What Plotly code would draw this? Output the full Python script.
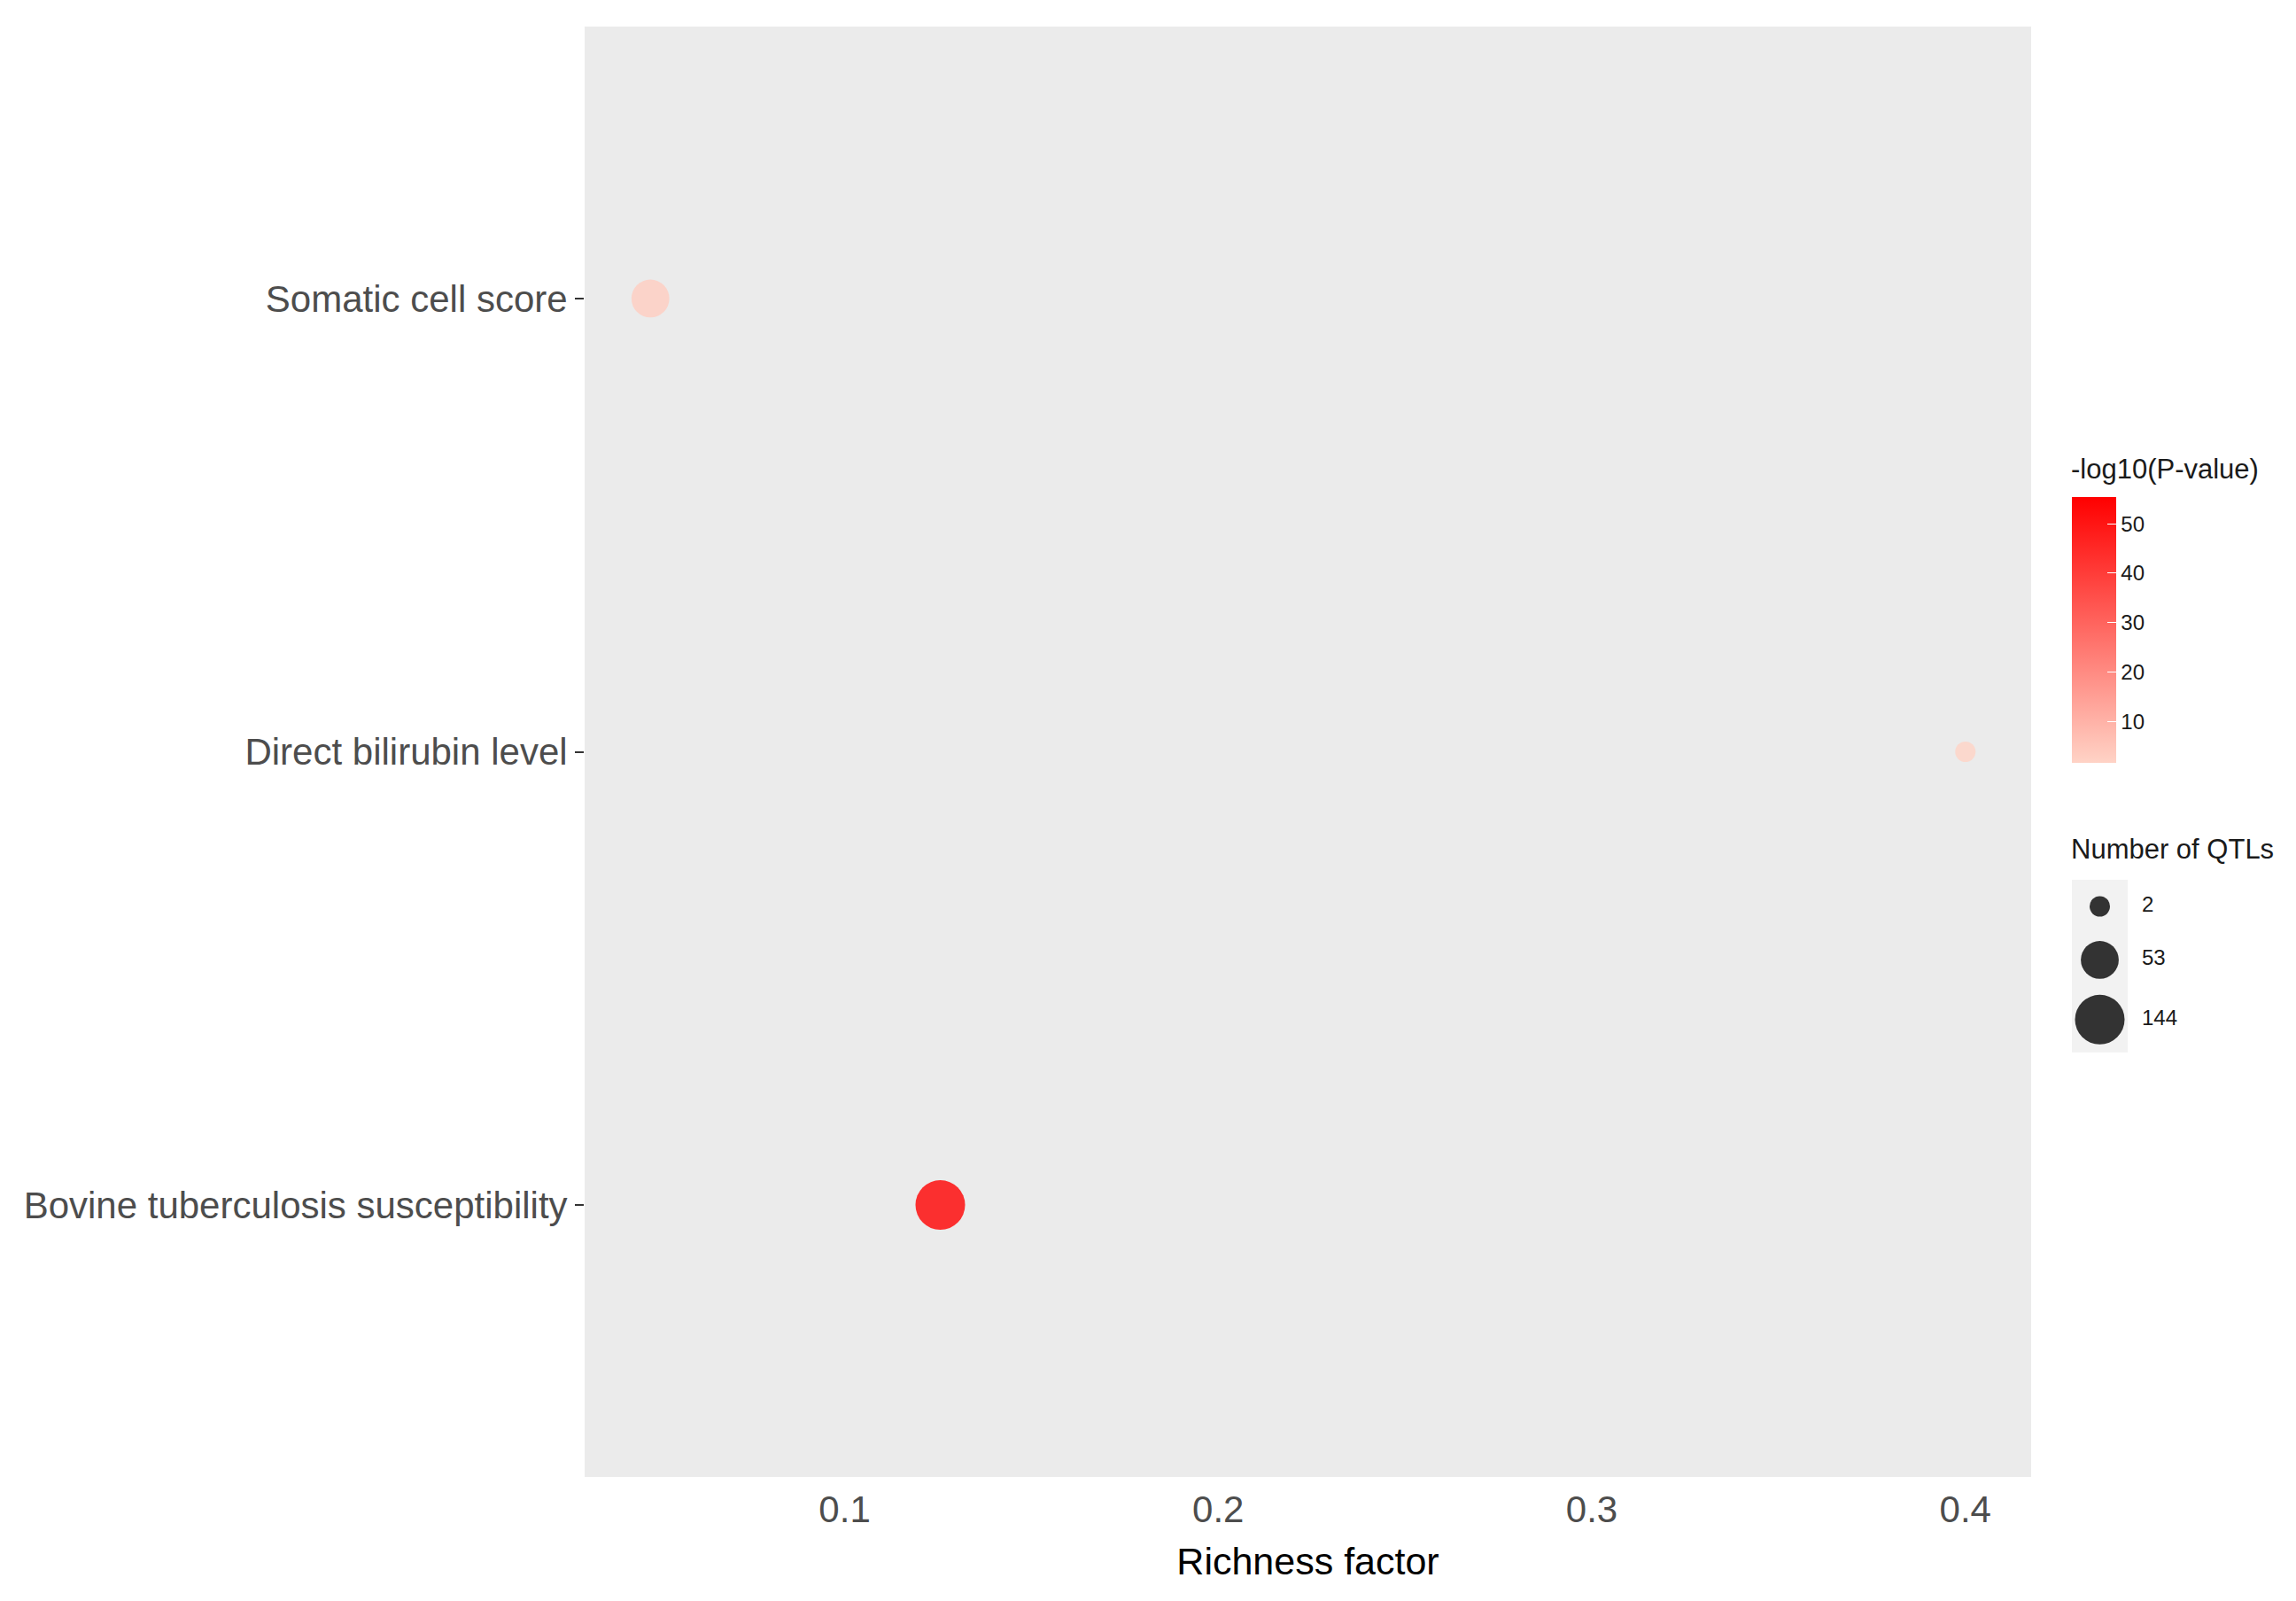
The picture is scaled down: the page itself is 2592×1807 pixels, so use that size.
"""QTL enrichment bubble chart"""

import numpy as np
import plotly.graph_objects as go

traits = ["Somatic cell score", "Direct bilirubin level", "Bovine tuberculosis susceptibility"]
trait_order = ["Bovine tuberculosis susceptibility", "Direct bilirubin level", "Somatic cell score"]
richness = [0.048, 0.4, 0.1256]
neg_log10_p = [3.2, 1.6, 55.4]
qtl_count = [53, 2, 144]

size_breaks = [2, 53, 144]
x_ticks = [0.1, 0.2, 0.3, 0.4]
color_ticks = [10, 20, 30, 40, 50]

W, H = 2592, 1807
OFF = 8  # page margin around the plot div
L, R, T, B = 660, 2293, 30, 1667
FONT = "Liberation Sans, Arial, sans-serif"


def diameter(n, lo=23, hi=56):
    # area-style size scale, like ggplot's scale_size
    n = np.asarray(n, dtype=float)
    t = (n - min(qtl_count)) / (max(qtl_count) - min(qtl_count))
    return lo + (hi - lo) * np.sqrt(t)


def px(x):
    return (x - OFF) / W


def py(y):
    return (H - (y - OFF)) / H


fig = go.Figure()

fig.add_trace(go.Scatter(
    x=richness,
    y=traits,
    mode="markers",
    marker=dict(
        size=diameter(qtl_count),
        color=neg_log10_p,
        colorscale=[[0, "#FFD3C6"], [1, "#FF0000"]],
        cmin=min(neg_log10_p),
        cmax=max(neg_log10_p),
        opacity=0.8,
        line=dict(width=0),
        colorbar=dict(
            tickvals=color_ticks,
            tickprefix="\u00a0\u00a0",
            ticks="inside",
            ticklen=10,
            tickcolor="white",
            tickwidth=1,
            tickfont=dict(size=24, color="#1A1A1A", family=FONT),
            thickness=50,
            thicknessmode="pixels",
            len=300,
            lenmode="pixels",
            x=px(2339),
            xanchor="left",
            xpad=0,
            y=py(711),
            yanchor="middle",
            ypad=0,
            outlinewidth=0,
        ),
    ),
    showlegend=False,
    hoverinfo="x+y",
))

# size legend drawn on its own small axes (pixel units)
KEY_L, KEY_R, KEY_TOP, LEG_R = 2339, 2402, 993, 2520
leg_d = diameter(size_breaks)
key_h = np.maximum(leg_d + 18, 60)
key_y = np.cumsum(key_h) - key_h / 2
key_w = KEY_R - KEY_L
fig.add_trace(go.Scatter(
    x=[key_w / 2] * len(size_breaks),
    y=key_y,
    mode="markers",
    marker=dict(size=leg_d, color="#333333", opacity=1, line=dict(width=0)),
    xaxis="x2",
    yaxis="y2",
    showlegend=False,
    hoverinfo="skip",
    cliponaxis=False,
))
fig.add_trace(go.Scatter(
    x=[2418 - KEY_L] * len(size_breaks),
    y=key_y,
    mode="text",
    text=[str(v) for v in size_breaks],
    textposition="middle right",
    textfont=dict(size=24, color="#1A1A1A", family=FONT),
    xaxis="x2",
    yaxis="y2",
    showlegend=False,
    hoverinfo="skip",
    cliponaxis=False,
))

key_bottom = KEY_TOP + key_h.sum()

fig.update_layout(
    width=W,
    height=H,
    margin=dict(l=0, r=0, t=0, b=0, autoexpand=False),
    paper_bgcolor="white",
    plot_bgcolor="white",
    xaxis=dict(
        domain=[px(L), px(R)],
        range=[0.0304, 0.4176],
        tickvals=x_ticks,
        ticktext=[f"{v:.1f}" for v in x_ticks],
        showgrid=False,
        zeroline=False,
        ticks="",
        ticklabelstandoff=8,
        tickfont=dict(size=42, color="#4D4D4D", family=FONT),
        title=dict(text="Richness factor", standoff=20,
                   font=dict(size=43, color="black", family=FONT)),
    ),
    yaxis=dict(
        domain=[py(B), py(T)],
        type="category",
        categoryorder="array",
        categoryarray=trait_order,
        range=[-0.6, 2.6],
        showgrid=False,
        zeroline=False,
        ticks="outside",
        ticklen=10,
        tickwidth=2,
        tickcolor="#333333",
        tickfont=dict(size=42, color="#4D4D4D", family=FONT),
    ),
    xaxis2=dict(
        domain=[px(KEY_L), px(LEG_R)],
        anchor="y2",
        range=[0, LEG_R - KEY_L],
        visible=False,
        fixedrange=True,
    ),
    yaxis2=dict(
        domain=[py(key_bottom), py(KEY_TOP)],
        anchor="x2",
        range=[key_h.sum(), 0],
        visible=False,
        fixedrange=True,
    ),
    shapes=[
        # ggplot-style grey panel
        dict(
            type="rect", xref="x domain", yref="y domain",
            x0=0, x1=1, y0=0, y1=1,
            fillcolor="#EBEBEB", line=dict(width=0), layer="below",
        ),
        # legend key background
        dict(
            type="rect", xref="paper", yref="paper",
            x0=px(KEY_L), x1=px(KEY_R), y0=py(key_bottom), y1=py(KEY_TOP),
            fillcolor="#F2F2F2", line=dict(width=0), layer="below",
        ),
    ],
    annotations=[
        dict(
            text="-log10(P-value)", xref="paper", yref="paper",
            x=px(2336), y=py(529), xanchor="left", yanchor="middle",
            showarrow=False,
            font=dict(size=31, color="#1A1A1A", family=FONT),
        ),
        dict(
            text="Number of QTLs", xref="paper", yref="paper",
            x=px(2336), y=py(958), xanchor="left", yanchor="middle",
            showarrow=False,
            font=dict(size=31, color="#1A1A1A", family=FONT),
        ),
    ],
)

fig.write_html("out.html")
